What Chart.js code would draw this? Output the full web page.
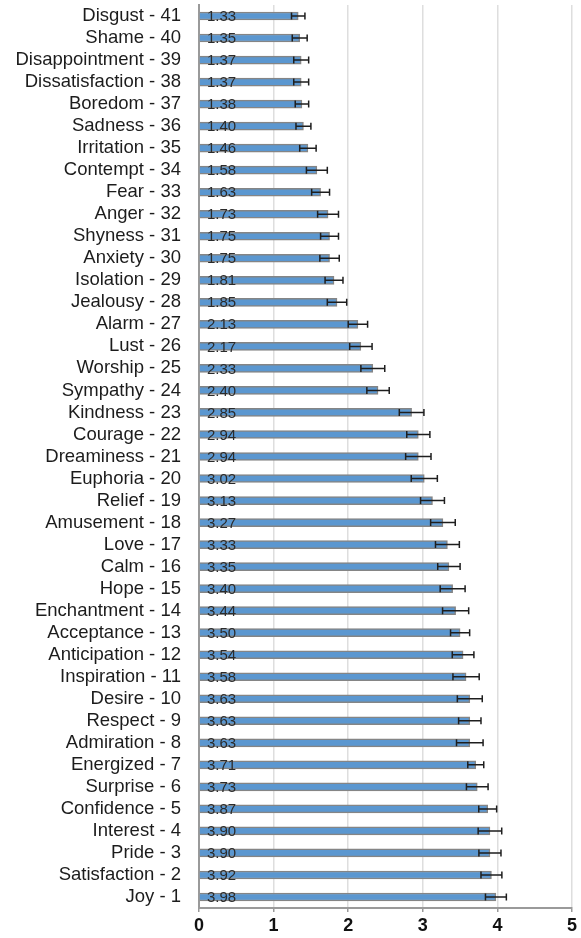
<!DOCTYPE html>
<html>
<head>
<meta charset="utf-8">
<style>
  html, body { margin: 0; padding: 0; background: #ffffff; }
  #chart { display: block; }
</style>
<script src="https://cdn.jsdelivr.net/npm/chart.js@4.4.1/dist/chart.umd.min.js"></script>
</head>
<body>
<canvas id="chart" width="581" height="938"></canvas>
<script>
// Emotions, listed top to bottom, with their rank numbers
const emotions = [
  "Disgust", "Shame", "Disappointment", "Dissatisfaction", "Boredom", "Sadness",
  "Irritation", "Contempt", "Fear", "Anger", "Shyness", "Anxiety", "Isolation",
  "Jealousy", "Alarm", "Lust", "Worship", "Sympathy", "Kindness", "Courage",
  "Dreaminess", "Euphoria", "Relief", "Amusement", "Love", "Calm", "Hope",
  "Enchantment", "Acceptance", "Anticipation", "Inspiration", "Desire", "Respect",
  "Admiration", "Energized", "Surprise", "Confidence", "Interest", "Pride",
  "Satisfaction", "Joy"
];
const ranks = [
  41, 40, 39, 38, 37, 36, 35, 34, 33, 32, 31, 30, 29, 28, 27, 26, 25, 24, 23, 22,
  21, 20, 19, 18, 17, 16, 15, 14, 13, 12, 11, 10, 9, 8, 7, 6, 5, 4, 3, 2, 1
];

// Mean rating per emotion
const means = [
  1.33, 1.35, 1.37, 1.37, 1.38, 1.40, 1.46, 1.58, 1.63, 1.73, 1.75, 1.75, 1.81,
  1.85, 2.13, 2.17, 2.33, 2.40, 2.85, 2.94, 2.94, 3.02, 3.13, 3.27, 3.33, 3.35,
  3.40, 3.44, 3.50, 3.54, 3.58, 3.63, 3.63, 3.63, 3.71, 3.73, 3.87, 3.90, 3.90,
  3.92, 3.98
];

// Standard error of each mean (drawn as +/- whiskers)
const errors = [
  0.09, 0.10, 0.10, 0.10, 0.09, 0.10, 0.11, 0.14, 0.12, 0.14, 0.12, 0.13, 0.12,
  0.13, 0.13, 0.15, 0.16, 0.15, 0.165, 0.155, 0.17, 0.175, 0.16, 0.165, 0.16, 0.15,
  0.167, 0.175, 0.128, 0.145, 0.176, 0.167, 0.15, 0.178, 0.107, 0.145, 0.12, 0.158,
  0.148, 0.14, 0.14
];

// Value axis ticks
const xTicks = [0, 1, 2, 3, 4, 5];

const labels = emotions.map((name, i) => name + " - " + ranks[i]);
const FONT = "'Liberation Sans', Arial, Helvetica, sans-serif";

// Whiskers with end caps around each bar end
const errorBars = {
  id: "errorBars",
  afterDatasetsDraw(chart) {
    const { ctx, scales: { x, y } } = chart;
    ctx.save();
    ctx.strokeStyle = "#1e1e1e";
    ctx.lineWidth = 1.5;
    means.forEach((m, i) => {
      const cy = y.getPixelForValue(i);
      const x1 = x.getPixelForValue(m - errors[i]);
      const x2 = x.getPixelForValue(m + errors[i]);
      ctx.beginPath();
      ctx.moveTo(x1, cy); ctx.lineTo(x2, cy);
      ctx.moveTo(x1, cy - 3.5); ctx.lineTo(x1, cy + 3.5);
      ctx.moveTo(x2, cy - 3.5); ctx.lineTo(x2, cy + 3.5);
      ctx.stroke();
    });
    ctx.restore();
  }
};

// Mean value printed near the base of each bar
const valueLabels = {
  id: "valueLabels",
  afterDatasetsDraw(chart) {
    const { ctx, scales: { x, y } } = chart;
    ctx.save();
    ctx.font = "15px " + FONT;
    ctx.fillStyle = "#2b2b2b";
    ctx.textAlign = "left";
    ctx.textBaseline = "middle";
    const x0 = x.getPixelForValue(0) + 8;
    means.forEach((m, i) => {
      ctx.fillText(m.toFixed(2), x0, y.getPixelForValue(i) + 1);
    });
    ctx.restore();
  }
};

new Chart(document.getElementById("chart"), {
  type: "bar",
  data: {
    labels: labels,
    datasets: [{
      data: means,
      backgroundColor: "#5b97d0",
      borderColor: "#858585",
      borderWidth: 1.5,
      borderSkipped: "start",
      barThickness: 8
    }]
  },
  options: {
    indexAxis: "y",
    responsive: false,
    animation: false,
    layout: { padding: { top: 5, right: 9, left: 0, bottom: 0 } },
    plugins: { legend: { display: false }, tooltip: { enabled: false } },
    scales: {
      x: {
        min: xTicks[0],
        max: xTicks[xTicks.length - 1],
        afterBuildTicks(scale) { scale.ticks = xTicks.map(v => ({ value: v })); },
        ticks: {
          font: { family: FONT, size: 18, weight: "bold" },
          color: "#111111",
          padding: 3
        },
        grid: { color: "#dedede", lineWidth: 1.5, tickLength: 4, tickColor: "#999999", tickWidth: 1.5 },
        border: { color: "#9a9a9a", width: 2 },
        afterFit(scale) { scale.height = 30; }
      },
      y: {
        ticks: {
          font: { family: FONT, size: 18.5 },
          color: "#1c1c1c",
          padding: 2,
          autoSkip: false
        },
        grid: { display: false, drawTicks: true, tickLength: 16 },
        border: { color: "#9a9a9a", width: 2 },
        afterFit(scale) {
          scale.width = 199;
          scale.paddingTop = 0;
          scale.paddingBottom = 0;
        }
      }
    }
  },
  plugins: [errorBars, valueLabels]
});
</script>
</body>
</html>
